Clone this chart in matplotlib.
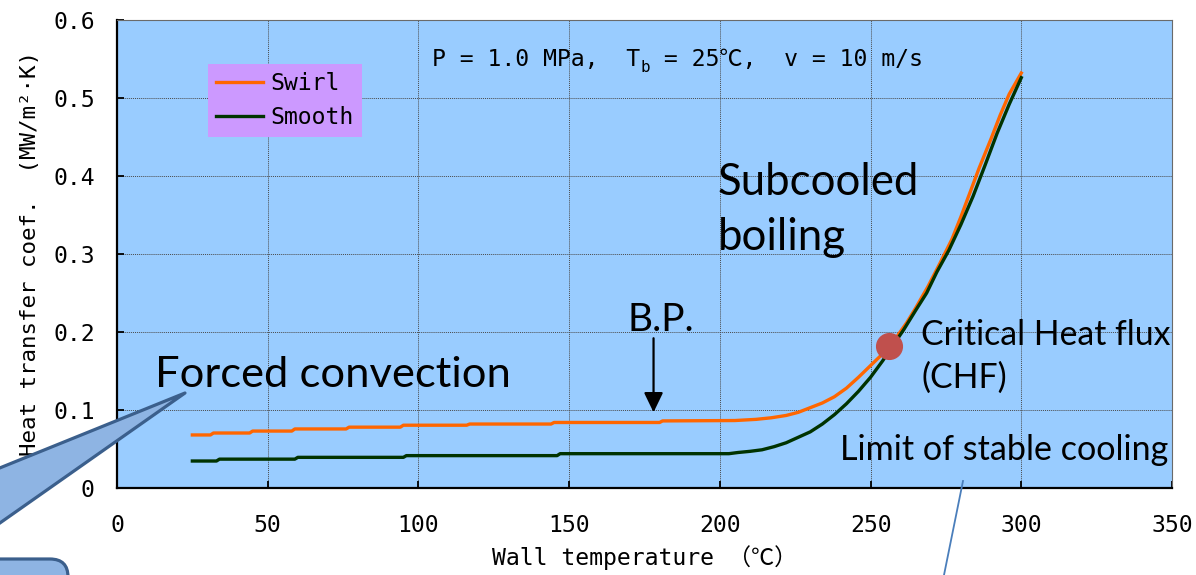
import matplotlib
matplotlib.use('Agg')
import matplotlib.pyplot as plt
import matplotlib.transforms as mtransforms
from matplotlib.patches import Polygon, FancyBboxPatch
from matplotlib.lines import Line2D
from matplotlib.font_manager import FontProperties

# ---------------- data ----------------
swirl_x = [25, 31, 32, 44, 45, 58, 59, 76, 77, 94, 95, 116, 117, 144, 145, 180, 181,
           205, 212, 217, 222, 226, 230, 234, 238, 242, 246, 250, 254, 258, 262, 265,
           269, 273, 277, 280, 283, 286, 290, 293, 296, 300]
swirl_y = [0.068, 0.068, 0.0705, 0.0705, 0.073, 0.073, 0.0757, 0.0757, 0.078, 0.078,
           0.0805, 0.0805, 0.082, 0.082, 0.084, 0.084, 0.086,
           0.0865, 0.088, 0.090, 0.093, 0.097, 0.103, 0.109, 0.117, 0.128, 0.142,
           0.157, 0.172, 0.190, 0.212, 0.231, 0.258, 0.288, 0.319, 0.348, 0.379,
           0.410, 0.448, 0.478, 0.505, 0.532]

smooth_x = [25, 33, 34, 59, 60, 95, 96, 146, 147, 203, 206, 210, 214, 218, 222, 226,
            230, 234, 238, 242, 246, 250, 254, 258, 261, 265, 268.6, 272, 276, 280,
            284, 288, 292, 296, 300]
smooth_y = [0.0346, 0.0346, 0.037, 0.037, 0.0393, 0.0393, 0.0415, 0.0415, 0.044, 0.044,
            0.0455, 0.047, 0.049, 0.053, 0.058, 0.065, 0.072, 0.082, 0.094, 0.108,
            0.124, 0.142, 0.163, 0.186, 0.203, 0.228, 0.250, 0.277, 0.305, 0.338,
            0.374, 0.414, 0.455, 0.492, 0.526]

series_labels = ['Swirl', 'Smooth']

chf_x = [256]
chf_y = [0.182]

bp_x = 178
bp_arrow_top = 0.192
bp_arrow_bottom = 0.097

x_ticks = [0, 50, 100, 150, 200, 250, 300, 350]
x_tick_labels = ['0', '50', '100', '150', '200', '250', '300', '350']
y_ticks = [0, 0.1, 0.2, 0.3, 0.4, 0.5, 0.6]
y_tick_labels = ['0', '0.1', '0.2', '0.3', '0.4', '0.5', '0.6']

x_label = 'Wall temperature （℃）'
y_label = 'Heat transfer coef.  (MW/m²·K)'

# ---------------- style ----------------
MONO = ['DejaVu Sans Mono', 'Noto Sans CJK JP']
SANS = ['Lato', 'DejaVu Sans']
FS = 16.7
W, H = 1196, 575

fig = plt.figure(figsize=(W / 100, H / 100), dpi=100)
fig.patch.set_facecolor('white')
ax = fig.add_axes([117 / W, 87 / H, 1055 / W, 468 / H])
ax.set_facecolor('#99CCFF')

ax.plot(swirl_x, swirl_y, color='#FF6600', lw=2.4, label=series_labels[0], zorder=3)
ax.plot(smooth_x, smooth_y, color='#003300', lw=2.4, label=series_labels[1], zorder=3)
ax.plot(chf_x, chf_y, 'o', ms=18.5, color='#C0504D', zorder=4)

ax.set_xlim(0, 350)
ax.set_ylim(0, 0.6)
ax.set_xticks(x_ticks)
ax.set_xticklabels(x_tick_labels, fontfamily=MONO, fontsize=FS)
ax.set_yticks(y_ticks)
ax.set_yticklabels(y_tick_labels, fontfamily=MONO, fontsize=FS)
ax.tick_params(axis='x', direction='in', length=5, width=1.3, pad=19)
ax.tick_params(axis='y', direction='in', length=5, width=1.3, pad=16)

ax.grid(True, color='#4a4a4a', linestyle=(0, (1, 1)), linewidth=0.7)
ax.set_axisbelow(True)
for s in ('left', 'bottom'):
    ax.spines[s].set_color('black')
    ax.spines[s].set_linewidth(1.6)
for s in ('top', 'right'):
    ax.spines[s].set_color('#6a6a6a')
    ax.spines[s].set_linewidth(0.8)

ax.set_xlabel(x_label, fontfamily=MONO, fontsize=FS, va='center')
ax.xaxis.set_label_coords(0.5005, -0.1496)
ax.set_ylabel(y_label, fontfamily=MONO, fontsize=16.2, va='center')
ax.yaxis.set_label_coords(-0.0825, 0.50)

leg = ax.legend(loc='upper left', bbox_to_anchor=(0.0863, 0.906), borderaxespad=0,
                prop=FontProperties(family=MONO, size=FS), frameon=True,
                facecolor='#CC99FF', edgecolor='none', framealpha=1, fancybox=False,
                borderpad=0.35, handlelength=2.0, handletextpad=0.35, labelspacing=0.47)

# condition annotation
t1 = ax.text(104.5, 0.541, 'P = 1.0 MPa,  T', fontfamily=MONO, fontsize=FS, va='baseline')
t2 = ax.annotate('b', xy=(1, 0.541), xycoords=(t1, 'data'), xytext=(0.5, -4),
                 textcoords='offset points', fontfamily=MONO, fontsize=11.5,
                 va='baseline', ha='left')
t3 = ax.annotate(' = 25℃,  v = 10 m/s', xy=(1, 0.541), xycoords=(t2, 'data'),
                 fontfamily=MONO, fontsize=FS, va='baseline', ha='left')

# regime labels
ax.text(12.6, 0.129, 'Forced convection', fontfamily=SANS, fontsize=31.3, va='baseline')
ax.text(199.4, 0.3756, 'Subcooled', fontfamily=SANS, fontsize=31.5, va='baseline')
ax.text(199.4, 0.305, 'boiling', fontfamily=SANS, fontsize=31.5, va='baseline')
ax.text(169.2, 0.2017, 'B.P.', fontfamily=SANS, fontsize=28, va='baseline')
ax.text(266.8, 0.1833, 'Critical Heat flux', fontfamily=SANS, fontsize=24.3, va='baseline')
ax.text(266.8, 0.128, '(CHF)', fontfamily=SANS, fontsize=24.3, va='baseline')
ax.text(239.9, 0.0359, 'Limit of stable cooling', fontfamily=SANS, fontsize=24.6,
        va='baseline')

ax.annotate('', xy=(bp_x, bp_arrow_bottom), xytext=(bp_x, bp_arrow_top),
            arrowprops=dict(arrowstyle='-|>,head_width=0.29,head_length=0.6',
                            mutation_scale=20, lw=1.6, color='black',
                            shrinkA=0, shrinkB=0), zorder=5)

# callout decorations (figure pixel coordinates, y downward)
px = mtransforms.Affine2D().scale(1 / W, -1 / H).translate(0, 1) + fig.transFigure
wedge = Polygon([(-30, 480), (185, 393), (-30, 544)], closed=True, transform=px,
                facecolor='#8EB4E3', edgecolor='#3B5F8C', lw=2.3, joinstyle='round',
                zorder=5)
fig.add_artist(wedge)
box = FancyBboxPatch((-20, 559), 88, 60, boxstyle='round,pad=0,rounding_size=18',
                     transform=px, facecolor='#8EB4E3', edgecolor='#3B5F8C', lw=2.3,
                     zorder=5)
fig.add_artist(box)
fig.add_artist(Line2D([963, 944], [481, 575], transform=px, color='#4A7EBB', lw=1.3,
                      zorder=5))

fig.savefig('out.png', dpi=100)
